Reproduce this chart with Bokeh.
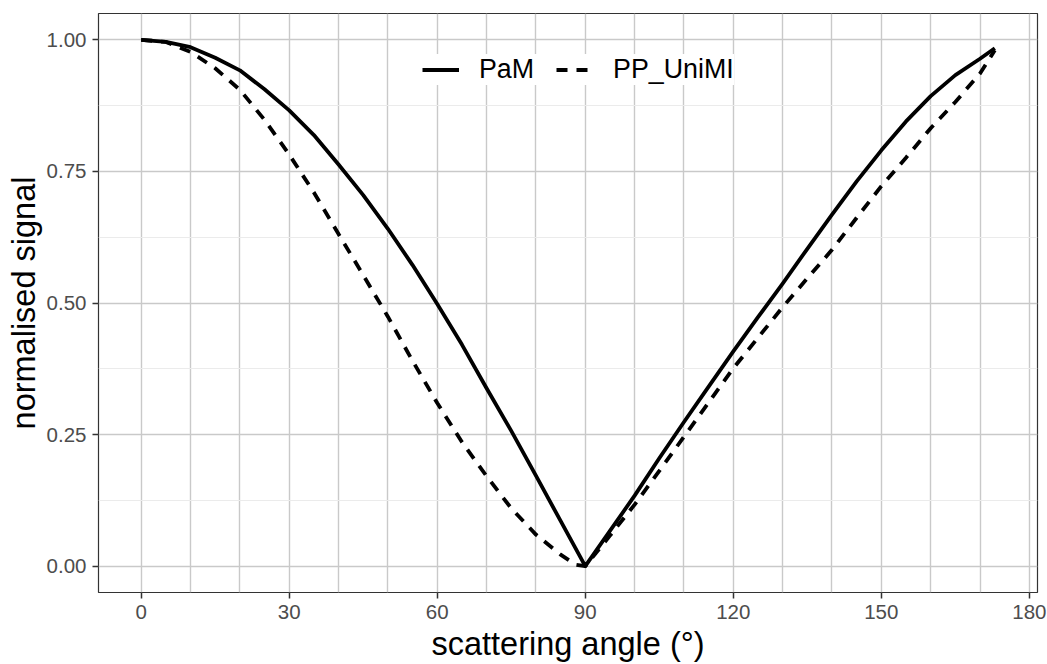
from bokeh.plotting import figure
from bokeh.models import Range1d, FixedTicker, Legend, LegendItem, ColumnDataSource
from bokeh.embed import file_html
from bokeh.resources import INLINE

# ---- data ----
angles_pam = [0, 5, 10, 15, 20, 25, 30, 35, 40, 45, 50, 55, 60, 65, 70, 75, 80, 85, 90,
              95, 100, 105, 110, 115, 120, 125, 130, 135, 140, 145, 150, 155, 160, 165, 170, 173]
signal_pam = [1.0, 0.996, 0.986, 0.966, 0.942, 0.906, 0.866, 0.819, 0.763, 0.705, 0.641, 0.572,
              0.498, 0.421, 0.338, 0.257, 0.172, 0.086, 0.0,
              0.067, 0.134, 0.205, 0.274, 0.341, 0.408, 0.473, 0.537, 0.603, 0.668, 0.731,
              0.790, 0.845, 0.893, 0.933, 0.964, 0.984]

angles_unimi = [0, 5, 10, 15, 20, 25, 30, 35, 40, 45, 50, 55, 60, 65, 70, 75, 80, 85, 88, 90,
                95, 100, 105, 110, 115, 120, 125, 130, 135, 140, 145, 150, 155, 160, 165, 170, 173]
signal_unimi = [1.0, 0.996, 0.977, 0.946, 0.905, 0.848, 0.782, 0.710, 0.631, 0.553, 0.474, 0.390,
                0.310, 0.236, 0.171, 0.110, 0.060, 0.022, 0.003, 0.0,
                0.058, 0.117, 0.181, 0.246, 0.311, 0.376, 0.434, 0.492, 0.547, 0.601, 0.662,
                0.722, 0.776, 0.832, 0.882, 0.936, 0.980]

series_names = ["PaM", "PP_UniMI"]
x_ticks = [0, 30, 60, 90, 120, 150, 180]
x_grid = list(range(0, 181, 10))
y_ticks = [0.0, 0.25, 0.5, 0.75, 1.0]
y_tick_labels = ["0.00", "0.25", "0.50", "0.75", "1.00"]
y_minor = [0.125, 0.375, 0.625, 0.875]

FONT = "Liberation Sans"

p = figure(width=1047, height=664, output_backend="svg", toolbar_location=None,
           x_range=Range1d(-8.65, 181.65), y_range=Range1d(-0.05, 1.05),
           min_border_left=98, min_border_right=10, min_border_top=13, min_border_bottom=72)

p.background_fill_color = "white"
p.border_fill_color = "white"
p.outline_line_color = "#333333"
p.outline_line_width = 1.2

# grid
p.xgrid.ticker = FixedTicker(ticks=x_grid)
p.xgrid.grid_line_color = "#C9C9C9"
p.xgrid.grid_line_width = 1.4
p.ygrid.ticker = FixedTicker(ticks=y_ticks, minor_ticks=y_minor)
p.ygrid.grid_line_color = "#C9C9C9"
p.ygrid.grid_line_width = 1.4
p.ygrid.minor_grid_line_color = "#EBEBEB"
p.ygrid.minor_grid_line_width = 1.0

# axes
p.xaxis.ticker = FixedTicker(ticks=x_ticks)
p.yaxis.ticker = FixedTicker(ticks=y_ticks)
p.yaxis.major_label_overrides = {t: l for t, l in zip(y_ticks, y_tick_labels)}
for ax in (p.xaxis, p.yaxis):
    ax.axis_line_color = None
    ax.major_tick_line_color = "#333333"
    ax.major_tick_line_width = 1.5
    ax.major_tick_out = 6
    ax.major_tick_in = 0
    ax.minor_tick_line_color = None
    ax.major_label_text_font = FONT
    ax.major_label_text_font_size = "20.5px"
    ax.major_label_text_color = "#4D4D4D"
    ax.axis_label_text_font = FONT
    ax.axis_label_text_font_size = "32.5px"
    ax.axis_label_text_font_style = "normal"
    ax.axis_label_text_color = "black"

p.xaxis.major_label_standoff = 6
p.yaxis.major_label_standoff = 6
p.xaxis.axis_label = "scattering angle (°)"
p.yaxis.axis_label = "normalised signal"
p.xaxis.axis_label_standoff = 4
p.yaxis.axis_label_standoff = 2

src_pam = ColumnDataSource(dict(x=angles_pam, y=signal_pam))
src_uni = ColumnDataSource(dict(x=angles_unimi, y=signal_unimi))
r1 = p.line("x", "y", source=src_pam, line_color="black", line_width=3.8, line_join="round")
r2 = p.line("x", "y", source=src_uni, line_color="black", line_width=3.8, line_dash="11 9")

legend = Legend(items=[LegendItem(label=series_names[0], renderers=[r1]),
                       LegendItem(label=series_names[1], renderers=[r2])],
                orientation="horizontal", location=(324, 507),
                padding=21, spacing=22, label_standoff=20, glyph_width=37, glyph_height=31,
                label_height=31, margin=0,
                label_text_font=FONT, label_text_font_size="26.8px", label_text_color="black",
                border_line_color=None, background_fill_color="white", background_fill_alpha=1.0)
p.add_layout(legend, "center")

open("out.html", "w").write(file_html(p, INLINE))
